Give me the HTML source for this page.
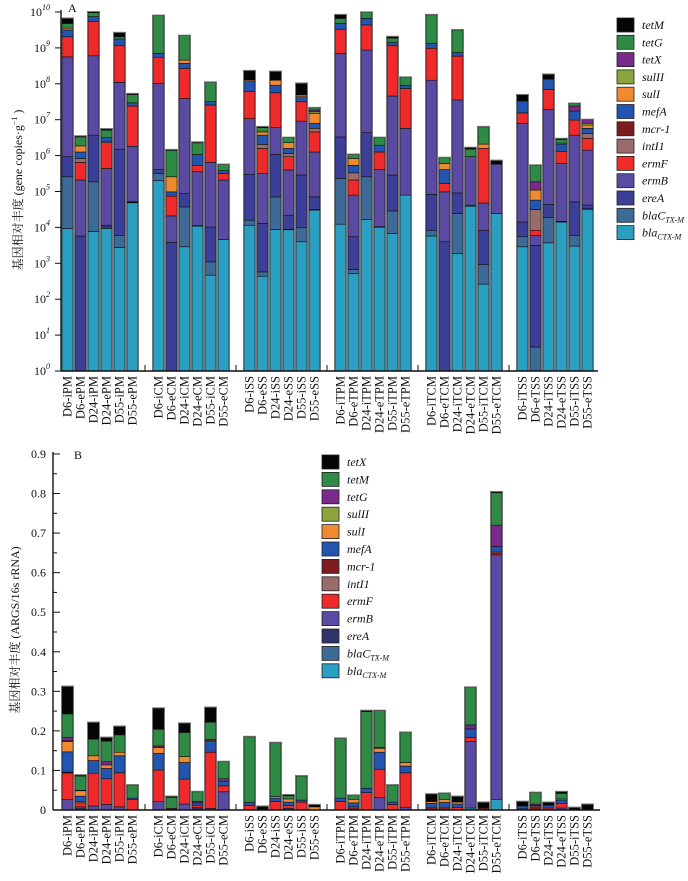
<!DOCTYPE html>
<html><head><meta charset="utf-8"><style>
html,body{margin:0;padding:0;background:#fff;}
svg{display:block;font-family:"Liberation Serif","Noto Serif CJK SC",serif;}
</style></head><body>
<svg id="fig" width="688" height="881" viewBox="0 0 688 881" xmlns="http://www.w3.org/2000/svg">
<g id="chartA"></g>
<g id="chartB"></g>
</svg>
<script>
// ---------- shared data ----------
const categories = ["D6-iPM","D6-ePM","D24-iPM","D24-ePM","D55-iPM","D55-ePM",
 "D6-iCM","D6-eCM","D24-iCM","D24-eCM","D55-iCM","D55-eCM",
 "D6-iSS","D6-eSS","D24-iSS","D24-eSS","D55-iSS","D55-eSS",
 "D6-iTPM","D6-eTPM","D24-iTPM","D24-eTPM","D55-iTPM","D55-eTPM",
 "D6-iTCM","D6-eTCM","D24-iTCM","D24-eTCM","D55-iTCM","D55-eTCM",
 "D6-iTSS","D6-eTSS","D24-iTSS","D24-eTSS","D55-iTSS","D55-eTSS"];
// stack order bottom -> top (chart A)
const genesA = ["blaCTX-M","blaCTX-M2","ereA","ermB","ermF","intI1","mcr-1","mefA","sulI","sulII","tetX","tetG","tetM"];
const colorsA = ["#2a9fc2","#3d6a96","#3b3f98","#5b4aa2","#ee2a2a","#9a6b6b","#7a1c20","#2255b0","#f08a30","#8ca43e","#7a2a8a","#2e8a45","#050505"];
const legendA = [["tetM",12],["tetG",11],["tetX",10],["sulII",9],["sulI",8],["mefA",7],["mcr-1",6],["intI1",5],["ermF",4],["ermB",3],["ereA",2],["blaC|TX-M",1],["bla|CTX-M",0]];
// Chart A: cumulative stack tops, log10(gene copies/g), per bar, genes in genesA order
const stackTopsLogA = [
 [3.97,5.41,5.97,8.75,9.31,9.31,9.31,9.5,9.55,9.55,9.55,9.68,9.82],
 [0,0,3.76,5.32,5.81,5.92,5.92,6.1,6.27,6.27,6.27,6.52,6.54],
 [3.89,5.27,6.57,8.78,9.73,9.73,9.73,9.87,9.87,9.87,9.87,9.98,10.0],
 [3.97,4.01,4.06,5.64,6.36,6.4,6.4,6.5,6.5,6.5,6.5,6.71,6.74],
 [3.44,3.78,6.18,8.04,9.06,9.06,9.06,9.25,9.25,9.25,9.25,9.31,9.42],
 [4.69,4.7,4.72,6.26,7.38,7.38,7.38,7.47,7.47,7.47,7.47,7.7,7.72],
 [5.3,5.5,5.61,8.01,8.74,8.74,8.74,8.85,8.85,8.85,8.85,9.9,9.9],
 [0,0,3.58,4.32,4.87,4.87,4.87,4.99,5.41,5.41,5.41,6.15,6.16],
 [3.46,4.57,4.94,7.59,8.43,8.43,8.43,8.57,8.66,8.66,8.66,9.34,9.34],
 [4.04,4.04,4.05,5.55,5.73,5.73,5.73,6.03,6.03,6.03,6.03,6.36,6.37],
 [2.67,3.04,4.01,5.81,7.41,7.41,7.41,7.5,7.5,7.5,7.5,8.04,8.04],
 [3.66,3.66,3.66,5.32,5.5,5.5,5.5,5.58,5.58,5.58,5.58,5.75,5.75],
 [4.06,4.2,5.48,7.03,7.78,7.78,7.78,8.06,8.1,8.1,8.1,8.1,8.36],
 [2.64,2.76,4.11,5.5,6.2,6.31,6.31,6.57,6.66,6.66,6.66,6.78,6.8],
 [3.94,4.85,6.03,6.78,7.75,7.75,7.75,7.96,8.1,8.1,8.1,8.1,8.34],
 [3.94,3.95,4.34,5.6,5.97,6.06,6.06,6.2,6.36,6.36,6.36,6.5,6.5],
 [3.6,3.99,5.46,6.96,7.5,7.5,7.5,7.64,7.69,7.69,7.69,7.69,8.01],
 [4.48,4.5,4.85,6.1,6.66,6.76,6.76,6.9,7.17,7.22,7.27,7.33,7.33],
 [4.09,5.36,6.52,8.85,9.52,9.52,9.52,9.68,9.68,9.68,9.68,9.82,9.92],
 [2.71,2.83,3.74,4.9,5.32,5.52,5.52,5.73,5.92,5.92,5.92,6.03,6.03],
 [4.22,5.41,6.64,8.94,9.64,9.64,9.64,9.82,9.82,9.82,9.82,9.99,9.99],
 [4.01,4.01,4.02,5.61,6.1,6.1,6.1,6.29,6.29,6.29,6.29,6.5,6.5],
 [3.83,4.46,5.46,7.66,9.06,9.06,9.06,9.15,9.15,9.15,9.15,9.27,9.31],
 [4.9,4.9,4.9,6.76,7.87,7.87,7.87,7.96,7.96,7.96,7.96,8.18,8.18],
 [3.76,3.92,4.92,8.1,8.99,8.99,8.99,9.13,9.13,9.13,9.13,9.92,9.92],
 [0,0,3.6,4.99,5.22,5.22,5.22,5.61,5.78,5.78,5.78,5.94,5.94],
 [3.27,4.39,4.96,7.55,8.77,8.77,8.77,8.87,8.87,8.87,8.87,9.5,9.5],
 [4.59,4.59,4.62,5.97,5.97,5.97,5.97,5.97,5.97,5.97,5.97,6.18,6.22],
 [2.42,2.97,3.92,4.68,6.2,6.2,6.2,6.2,6.32,6.32,6.32,6.8,6.8],
 [4.39,4.39,4.39,5.76,5.76,5.76,5.76,5.76,5.76,5.76,5.76,5.76,5.86],
 [3.46,3.74,4.15,6.9,7.19,7.19,7.19,7.52,7.52,7.52,7.52,7.52,7.69],
 [0,0.67,3.5,3.78,3.92,4.5,4.5,4.76,5.04,5.04,5.27,5.73,5.73],
 [3.57,4.28,4.64,7.29,7.84,7.84,7.84,8.13,8.13,8.13,8.13,8.13,8.26],
 [4.15,4.15,4.17,5.78,6.12,6.12,6.12,6.32,6.35,6.35,6.35,6.45,6.47],
 [3.48,3.78,4.71,6.57,6.99,6.99,6.99,7.24,7.24,7.24,7.38,7.45,7.45],
 [4.51,4.52,4.62,6.15,6.48,6.62,6.62,6.76,6.85,6.9,7.0,7.0,7.0]
];
const tickExpA = [0,1,2,3,4,5,6,7,8,9,10];

// Chart B stack order bottom -> top
const genesB = ["blaCTX-M","blaCTX-M2","ereA","ermB","ermF","intI1","mcr-1","mefA","sulI","sulII","tetG","tetM","tetX"];
const colorsB = ["#2a9fc2","#3d6a96","#2f3468","#5b4aa2","#ee2a2a","#9a6b6b","#7a1c20","#2255b0","#f08a30","#8ca43e","#7a2a8a","#2e8a45","#050505"];
const legendB = [["tetX",12],["tetM",11],["tetG",10],["sulII",9],["sulI",8],["mefA",7],["mcr-1",6],["intI1",5],["ermF",4],["ermB",3],["ereA",2],["blaC|TX-M",1],["bla|CTX-M",0]];
// Chart B: cumulative stack tops (ARGS/16s rRNA)
const stackTopsB = [
 [0,0,0,0.027,0.094,0.095,0.096,0.147,0.173,0.175,0.183,0.243,0.312],
 [0,0,0.003,0.008,0.018,0.022,0.022,0.035,0.049,0.049,0.05,0.086,0.088],
 [0,0,0,0.01,0.093,0.093,0.093,0.125,0.137,0.137,0.137,0.179,0.221],
 [0,0,0,0.014,0.079,0.079,0.079,0.105,0.114,0.114,0.122,0.174,0.183],
 [0,0,0,0.008,0.094,0.094,0.094,0.137,0.146,0.146,0.146,0.19,0.211],
 [0,0,0,0.001,0.026,0.026,0.026,0.03,0.03,0.03,0.03,0.063,0.063],
 [0,0,0,0.021,0.101,0.101,0.101,0.143,0.158,0.158,0.162,0.204,0.257],
 [0,0,0,0.002,0.004,0.004,0.004,0.004,0.004,0.004,0.004,0.032,0.034],
 [0,0,0,0.015,0.078,0.078,0.078,0.12,0.135,0.135,0.135,0.196,0.219],
 [0,0,0.003,0.006,0.012,0.012,0.012,0.018,0.018,0.018,0.022,0.046,0.046],
 [0,0,0,0.004,0.146,0.146,0.146,0.173,0.176,0.176,0.178,0.222,0.259],
 [0,0,0,0.046,0.061,0.061,0.061,0.073,0.073,0.073,0.079,0.122,0.122],
 [0,0,0,0,0.011,0.011,0.011,0.019,0.019,0.019,0.019,0.185,0.185],
 [0,0,0,0,0,0,0,0,0,0,0,0,0.009],
 [0,0,0,0,0.021,0.021,0.021,0.03,0.034,0.034,0.034,0.17,0.17],
 [0,0,0,0.004,0.011,0.011,0.011,0.02,0.028,0.028,0.028,0.036,0.038],
 [0,0,0,0,0.02,0.02,0.02,0.025,0.025,0.025,0.025,0.086,0.086],
 [0,0,0,0,0,0,0,0,0.008,0.008,0.008,0.008,0.013],
 [0,0,0,0,0.021,0.021,0.021,0.03,0.03,0.03,0.03,0.181,0.181],
 [0,0,0,0.003,0.008,0.008,0.008,0.018,0.027,0.027,0.027,0.037,0.037],
 [0,0,0,0,0.044,0.044,0.044,0.055,0.055,0.055,0.055,0.249,0.251],
 [0,0,0,0.032,0.103,0.103,0.103,0.146,0.156,0.156,0.158,0.251,0.251],
 [0,0,0,0,0.014,0.014,0.014,0.02,0.02,0.02,0.02,0.063,0.063],
 [0,0,0,0.007,0.094,0.094,0.094,0.111,0.12,0.12,0.12,0.196,0.196],
 [0,0,0.003,0.003,0.007,0.007,0.007,0.017,0.021,0.021,0.021,0.021,0.04],
 [0,0,0,0.003,0.007,0.007,0.007,0.019,0.027,0.027,0.027,0.042,0.042],
 [0,0,0,0,0.006,0.006,0.006,0.015,0.02,0.02,0.02,0.02,0.034],
 [0.005,0.005,0.005,0.173,0.183,0.183,0.183,0.205,0.205,0.205,0.215,0.31,0.31],
 [0,0,0,0,0,0,0.005,0.005,0.005,0.005,0.005,0.005,0.019],
 [0.027,0.027,0.027,0.645,0.649,0.652,0.652,0.666,0.666,0.666,0.72,0.802,0.804],
 [0,0,0,0,0.003,0.003,0.003,0.01,0.01,0.01,0.01,0.01,0.021],
 [0,0,0,0.003,0.006,0.01,0.01,0.012,0.012,0.012,0.015,0.044,0.044],
 [0,0,0,0,0.005,0.005,0.005,0.012,0.012,0.012,0.012,0.012,0.019],
 [0,0,0,0.005,0.017,0.017,0.017,0.025,0.028,0.028,0.028,0.042,0.046],
 [0,0,0,0,0,0,0,0,0,0,0,0,0.006],
 [0,0,0,0,0,0,0,0,0,0,0,0,0.014]
];
const tickLabelsB = ["0","0.1","0.2","0.3","0.4","0.5","0.6","0.7","0.8","0.9"];
const tickValsB = [0,0.1,0.2,0.3,0.4,0.5,0.6,0.7,0.8,0.9];

// ---------- helpers ----------
const NS = "http://www.w3.org/2000/svg";
function mk(parent, tag, attrs, text){
  const e = document.createElementNS(NS, tag);
  for (const k in attrs) e.setAttribute(k, attrs[k]);
  if (text !== undefined) e.textContent = text;
  parent.appendChild(e); return e;
}
const BAR_W = 11, PITCH = 13, GROUP_PITCH = 91, X0 = 62;
function barX(i){ return X0 + Math.floor(i/6)*GROUP_PITCH + (i%6)*PITCH; }

function drawChart(g, cfg){
  const {axisX, axisEndX, baseY, yScale, data, colors} = cfg;
  data.forEach((tops, i) => {
    const bx = barX(i);
    const bg = mk(g, "g", {});
    
    
    let prev = cfg.floor;
    let maxTop = cfg.floor;
    tops.forEach((t, k) => {
      if (t > prev + 1e-9) {
        const y1 = yScale(t), y0 = yScale(prev);
        const r = mk(bg, "rect", {x:bx, y:y1, width:BAR_W, height:Math.max(0.6, y0-y1), fill:colors[k], stroke:"#111", "stroke-width":0.6});
        
        
        prev = t; maxTop = t;
      }
    });
    if (maxTop > cfg.floor) {
      const o = mk(bg, "rect", {x:bx-0.5, y:yScale(maxTop)-0.5, width:BAR_W+1, height:yScale(cfg.floor)-yScale(maxTop)+0.5, fill:"none", stroke:"#777", "stroke-width":1});
      
      
    }
    const lx = bx + BAR_W/2 + 4;
    const t = mk(g, "text", {x:0, y:0, transform:`translate(${lx},${baseY+5}) rotate(-90)`, "text-anchor":"end", "font-size":12.5, fill:"#111"}, categories[i]);
    
    
  });
  const ax = mk(g, "line", {x1:axisX, y1:baseY, x2:axisEndX, y2:baseY, stroke:"#111", "stroke-width":1.4});
  
  
  const ay = mk(g, "line", {x1:axisX, y1:baseY, x2:axisX, y2:cfg.topY, stroke:"#111", "stroke-width":1.4});
  
  
  for (let s=1; s<6; s++){
    const sx = barX(s*6) - 8;
    mk(g, "line", {x1:sx, y1:baseY, x2:sx, y2:baseY-6, stroke:"#111", "stroke-width":1});
  }
}

function drawLegend(g, items, colors, x, y, step){
  items.forEach((it, r) => {
    const [label, ci] = it;
    const lg = mk(g, "g", {});
    
    
    const yy = y + r*step;
    mk(lg, "rect", {x:x, y:yy, width:17, height:14, fill:colors[ci], stroke:"#222", "stroke-width":0.8});
    const parts = label.split("|");
    const t = mk(lg, "text", {x:x+25, y:yy+11, "font-size":12, "font-style":"italic", fill:"#111"});
    t.appendChild(document.createTextNode(parts[0]));
    if (parts[1]) { const s = mk(t, "tspan", {"font-size":8, dy:3}); s.textContent = parts[1]; }
  });
}

// ---------- Chart A ----------
const gA = document.getElementById("chartA");
const A_BASE = 371, A_DEC = 35.9;
const yA = v => A_BASE - v*A_DEC;
drawChart(gA, {axisX:61, axisEndX:598, baseY:A_BASE, topY:10, yScale:yA, data:stackTopsLogA, colors:colorsA, floor:0});
tickExpA.forEach(e => {
  const y = yA(e);
  mk(gA, "line", {x1:55, y1:y, x2:61, y2:y, stroke:"#111", "stroke-width":1});
  const t = mk(gA, "text", {x:50, y:y+4, "text-anchor":"end", "font-size":12, fill:"#111"}, "10");
  
  
  const s = mk(gA, "tspan", {"font-size":8, dy:-6, "font-style":"italic"}); s.textContent = String(e); t.appendChild(s);
});
{
  const t = mk(gA, "text", {x:0, y:0, transform:"translate(22,190) rotate(-90)", "text-anchor":"middle", "font-size":12, fill:"#111"}, "基因相对丰度 (gene copies·g");
  
  
  const s = mk(t, "tspan", {"font-size":8, dy:-5}); s.textContent = "−1";
  const s2 = mk(t, "tspan", {dy:5}); s2.textContent = " )";
  const p = mk(gA, "text", {x:68, y:12, "font-size":12, fill:"#111"}, "A");
  
  
}
const legA = mk(gA, "g", {});


drawLegend(legA, legendA, colorsA, 617, 18, 17.3);

// ---------- Chart B ----------
const gB = document.getElementById("chartB");
const B_BASE = 810, B_UNIT = 395.6;
const yB = v => B_BASE - v*B_UNIT;
drawChart(gB, {axisX:53, axisEndX:600, baseY:B_BASE, topY:452, yScale:yB, data:stackTopsB, colors:colorsB, floor:0});
tickValsB.forEach((v, i) => {
  const y = yB(v);
  mk(gB, "line", {x1:53, y1:y, x2:60, y2:y, stroke:"#111", "stroke-width":1});
  if (i < tickValsB.length-1) { const ym = yB(v+0.05); mk(gB, "line", {x1:53, y1:ym, x2:57, y2:ym, stroke:"#111", "stroke-width":1}); }
  const t = mk(gB, "text", {x:46, y:y+4, "text-anchor":"end", "font-size":12, fill:"#111"}, tickLabelsB[i]);
  
  
});
{
  const t = mk(gB, "text", {x:0, y:0, transform:"translate(19,630) rotate(-90)", "text-anchor":"middle", "font-size":12, fill:"#111"}, "基因相对丰度 (ARGS/16s rRNA)");
  
  
  const p = mk(gB, "text", {x:74, y:459, "font-size":12, fill:"#111"}, "B");
  
  
}
const legB = mk(gB, "g", {});


drawLegend(legB, legendB, colorsB, 322, 455, 17.4);
</script>
</body></html>
